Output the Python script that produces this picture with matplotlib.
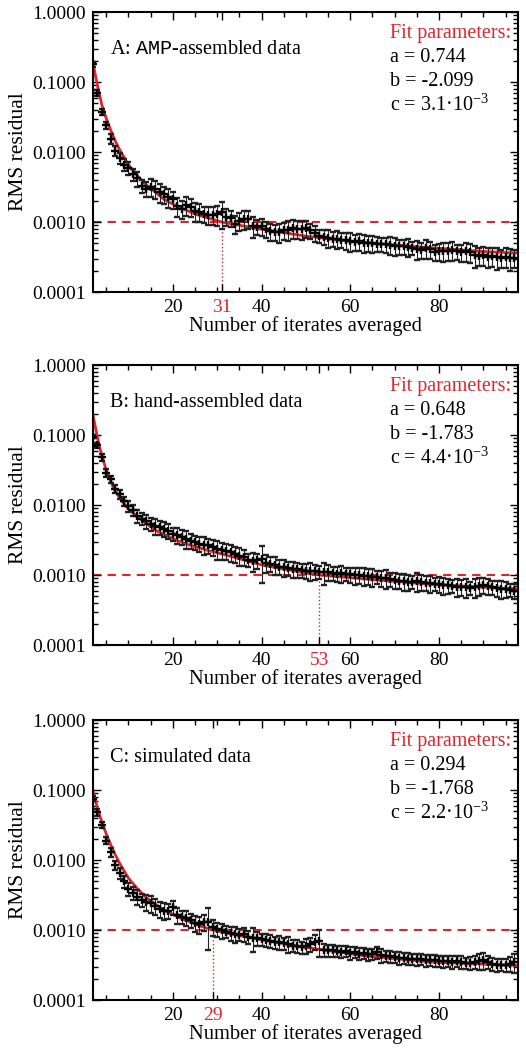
import numpy as np
import matplotlib
matplotlib.use("Agg")
import matplotlib.pyplot as plt
from matplotlib.ticker import FixedLocator, MultipleLocator, LogLocator, FuncFormatter, NullFormatter

plt.rcParams['font.family'] = ['Liberation Serif', 'DejaVu Serif']
plt.rcParams['mathtext.fontset'] = 'custom'
plt.rcParams['mathtext.rm'] = 'Liberation Serif'
plt.rcParams['mathtext.tt'] = 'Liberation Mono'

RED = '#e3232c'

# number of iterates averaged (x of the data points)
iters = np.arange(2, 98)

# A: AMP-assembled data, RMS residual in units of 1e-3
rms_a = [180, 70, 37, 24, 15.5, 10.5, 8.2, 6.6, 6.0, 4.8,
         4.2, 3.3, 3.0, 3.2, 3.0, 2.7, 2.5, 2.3, 2.1, 1.7,
         1.55, 1.75, 1.65, 1.45, 1.4, 1.3, 1.28, 1.28, 1.3, 1.38,
         1.2, 1.15, 0.95, 1.05, 1.1, 1.12, 0.88, 0.86, 0.87, 0.8,
         0.74, 0.72, 0.72, 0.76, 0.78, 0.82, 0.8, 0.79, 0.82, 0.76,
         0.7, 0.64, 0.62, 0.6, 0.58, 0.58, 0.56, 0.55, 0.53, 0.52,
         0.53, 0.51, 0.5, 0.5, 0.49, 0.48, 0.48, 0.47, 0.46, 0.45,
         0.45, 0.44, 0.43, 0.41, 0.4, 0.42, 0.41, 0.37, 0.38, 0.39,
         0.39, 0.4, 0.38, 0.37, 0.38, 0.37, 0.34, 0.33, 0.34, 0.32,
         0.33, 0.32, 0.31, 0.32, 0.31, 0.31]
# relative error bar half-size
err_a = [0.08, 0.1, 0.1, 0.12, 0.15, 0.15, 0.18, 0.2, 0.22, 0.2,
         0.25, 0.22, 0.25, 0.28, 0.3, 0.3, 0.28, 0.3, 0.28, 0.3,
         0.28, 0.3, 0.28, 0.3, 0.28, 0.25, 0.3, 0.28, 0.32, 0.42,
         0.28, 0.25, 0.3, 0.28, 0.3, 0.3, 0.32, 0.25, 0.28, 0.25,
         0.28, 0.25, 0.3, 0.28, 0.32, 0.3, 0.28, 0.3, 0.28, 0.25,
         0.25, 0.22, 0.25, 0.28, 0.25, 0.3, 0.25, 0.28, 0.3, 0.25,
         0.28, 0.3, 0.25, 0.28, 0.25, 0.22, 0.25, 0.28, 0.3, 0.25,
         0.25, 0.28, 0.22, 0.3, 0.25, 0.3, 0.28, 0.25, 0.28, 0.3,
         0.28, 0.3, 0.25, 0.28, 0.3, 0.3, 0.35, 0.28, 0.3, 0.32,
         0.3, 0.35, 0.3, 0.32, 0.35, 0.3]
fit_xa = [2.0, 3, 4, 5, 6, 7, 8, 10, 12, 14, 16, 18, 20, 25, 31, 35, 40, 50, 60, 70, 80, 90, 97.8]
fit_ya = [0.185, 0.089, 0.047, 0.030, 0.0205, 0.0145, 0.0108, 0.0066, 0.0046, 0.0034, 0.0027,
          0.0021, 0.0018, 0.0013, 0.00100, 0.00090, 0.00079, 0.00063, 0.00053, 0.00047,
          0.00042, 0.00038, 0.00036]

# B: hand-assembled data
rms_b = [95, 72, 48, 29, 23.5, 17, 14.2, 11.5, 9.8, 8.4,
         7.0, 6.4, 5.9, 5.4, 5.0, 4.8, 4.6, 4.3, 3.9, 3.7,
         3.55, 3.3, 3.1, 2.95, 2.8, 2.7, 2.65, 2.5, 2.35, 2.25,
         2.2, 2.1, 2.0, 1.9, 1.8, 1.65, 1.6, 1.62, 1.7, 1.5,
         1.45, 1.4, 1.32, 1.3, 1.25, 1.22, 1.2, 1.18, 1.16, 1.15,
         1.13, 1.12, 1.1, 1.1, 1.07, 1.05, 1.06, 1.04, 1.02, 1.0,
         1.0, 0.98, 0.97, 0.95, 0.94, 0.91, 0.9, 0.87, 0.85, 0.83,
         0.81, 0.8, 0.8, 0.82, 0.8, 0.78, 0.76, 0.75, 0.74, 0.72,
         0.71, 0.7, 0.68, 0.68, 0.67, 0.66, 0.68, 0.7, 0.72, 0.7,
         0.67, 0.65, 0.64, 0.63, 0.62, 0.6]
err_b = [0.06, 0.08, 0.1, 0.12, 0.12, 0.12, 0.15, 0.15, 0.18, 0.18,
         0.2, 0.2, 0.22, 0.22, 0.25, 0.22, 0.25, 0.25, 0.22, 0.25,
         0.25, 0.28, 0.25, 0.22, 0.25, 0.28, 0.25, 0.25, 0.3, 0.28,
         0.25, 0.28, 0.25, 0.28, 0.25, 0.22, 0.3, 0.25, 0.55, 0.28,
         0.25, 0.28, 0.25, 0.28, 0.22, 0.25, 0.25, 0.22, 0.25, 0.28,
         0.25, 0.22, 0.35, 0.25, 0.22, 0.25, 0.28, 0.22, 0.25, 0.28,
         0.25, 0.3, 0.25, 0.28, 0.22, 0.25, 0.3, 0.22, 0.25, 0.25,
         0.28, 0.25, 0.22, 0.3, 0.25, 0.25, 0.28, 0.22, 0.25, 0.28,
         0.25, 0.22, 0.28, 0.25, 0.3, 0.22, 0.3, 0.28, 0.25, 0.25,
         0.22, 0.25, 0.28, 0.25, 0.22, 0.25]
fit_xb = [2.0, 3.4, 4.9, 6.7, 8.6, 10, 12.4, 16, 20, 23.6, 27.3, 33, 40.5, 53, 63, 78, 97.8]
fit_yb = [0.19, 0.070, 0.0327, 0.017, 0.0111, 0.0088, 0.0065, 0.0044, 0.0033, 0.0027, 0.0023,
          0.00185, 0.00137, 0.00100, 0.00088, 0.00074, 0.00063]

# C: simulated data
rms_c = [75, 48, 32, 19, 13, 8.5, 6.5, 5.0, 3.9, 3.4,
         3.0, 2.7, 2.5, 2.4, 2.2, 2.0, 1.9, 1.9, 2.1, 1.65,
         1.55, 1.5, 1.38, 1.25, 1.2, 1.3, 1.3, 1.1, 1.02, 0.99,
         0.95, 0.9, 0.88, 0.86, 0.87, 0.8, 0.78, 0.76, 0.74, 0.72,
         0.7, 0.67, 0.67, 0.65, 0.63, 0.6, 0.6, 0.57, 0.6, 0.63,
         0.68, 0.7, 0.52, 0.51, 0.51, 0.5, 0.49, 0.5, 0.47, 0.48,
         0.46, 0.47, 0.45, 0.46, 0.48, 0.44, 0.43, 0.42, 0.41, 0.40,
         0.40, 0.39, 0.38, 0.38, 0.38, 0.37, 0.37, 0.37, 0.36, 0.36,
         0.36, 0.35, 0.36, 0.35, 0.34, 0.34, 0.35, 0.36, 0.37, 0.35,
         0.33, 0.32, 0.32, 0.32, 0.33, 0.35]
err_c = [0.08, 0.1, 0.1, 0.12, 0.15, 0.15, 0.18, 0.2, 0.22, 0.22,
         0.25, 0.22, 0.25, 0.28, 0.25, 0.25, 0.28, 0.25, 0.22, 0.25,
         0.22, 0.25, 0.22, 0.25, 0.28, 0.25, 0.6, 0.25, 0.22, 0.25,
         0.2, 0.22, 0.25, 0.2, 0.22, 0.2, 0.38, 0.22, 0.2, 0.2,
         0.22, 0.2, 0.22, 0.2, 0.25, 0.2, 0.22, 0.2, 0.25, 0.22,
         0.25, 0.42, 0.2, 0.18, 0.2, 0.18, 0.2, 0.18, 0.2, 0.18,
         0.2, 0.18, 0.2, 0.18, 0.2, 0.22, 0.18, 0.2, 0.18, 0.2,
         0.18, 0.2, 0.18, 0.2, 0.18, 0.2, 0.18, 0.2, 0.18, 0.2,
         0.18, 0.2, 0.18, 0.2, 0.18, 0.2, 0.22, 0.25, 0.28, 0.22,
         0.2, 0.22, 0.2, 0.22, 0.25, 0.3]
fit_xc = [2.0, 3, 4, 5, 6, 7, 8, 10, 12, 14, 17.6, 22, 26.6, 29, 33, 40, 48, 63, 78, 97.8]
fit_yc = [0.097, 0.055, 0.035, 0.0235, 0.0165, 0.0120, 0.0090, 0.0055, 0.0039, 0.0029, 0.0020,
          0.00145, 0.00112, 0.00100, 0.00088, 0.00073, 0.00059, 0.00043, 0.00035, 0.00031]

labels = ["A: $\\mathtt{AMP}$-assembled data", "B: hand-assembled data", "C: simulated data"]
crossings = [31, 53, 29]
params = [("0.744", "-2.099", "3.1"), ("0.648", "-1.783", "4.4"), ("0.294", "-1.768", "2.2")]

panels = [(rms_a, err_a, fit_xa, fit_ya), (rms_b, err_b, fit_xb, fit_yb), (rms_c, err_c, fit_xc, fit_yc)]
bottoms = [0.7216, 0.3851, 0.0467]

fig = plt.figure(figsize=(5.26, 10.49), dpi=100)

for i in range(3):
    rms, err, fx, fy = panels[i]
    ax = fig.add_axes([0.1768, bottoms[i], 0.808, 0.2669])
    y = np.array(rms) * 1e-3
    ax.errorbar(iters, y, yerr=y * np.array(err), fmt='+', color='black', ecolor='#222222',
                ms=6, mew=1.7, elinewidth=0.8, capsize=2.5, capthick=0.8, zorder=3)
    ax.plot(fx, fy, color=RED, lw=2, zorder=2)
    ax.axhline(1e-3, color=RED, ls=(0, (4, 3)), lw=1.5, zorder=1)
    ax.plot([crossings[i], crossings[i]], [1e-4, 1e-3], color=RED, ls=':', lw=1, zorder=1)

    ax.set_yscale('log')
    ax.set_ylim(1e-4, 1)
    ax.set_xlim(2.0, 97.8)
    ax.yaxis.set_major_locator(FixedLocator([1e-4, 1e-3, 1e-2, 1e-1, 1]))
    ax.yaxis.set_major_formatter(FuncFormatter(lambda v, p: "%.4f" % v))
    ax.yaxis.set_minor_locator(LogLocator(base=10, subs=np.arange(2, 10), numticks=20))
    ax.yaxis.set_minor_formatter(NullFormatter())
    ax.xaxis.set_major_locator(FixedLocator(sorted([20, 40, 60, 80, crossings[i]])))
    ax.xaxis.set_minor_locator(MultipleLocator(5))
    ax.tick_params(which='both', direction='in', top=True, right=True, labelsize=14, width=1)
    ax.tick_params(which='major', length=6, pad=5)
    ax.tick_params(which='minor', length=3.5)
    for lab in ax.get_xticklabels():
        if lab.get_text() == str(crossings[i]):
            lab.set_color(RED)
    for s in ax.spines.values():
        s.set_linewidth(1.5)

    ax.set_xlabel("Number of iterates averaged", fontsize=14.8, labelpad=0)
    ax.set_ylabel("RMS residual", fontsize=15.5, labelpad=3)

    ax.text(0.04, 0.866, labels[i], transform=ax.transAxes, fontsize=14.5, va='center')
    a, b, c = params[i]
    ax.text(0.698, 0.925, "Fit parameters:", transform=ax.transAxes, fontsize=14.5, color=RED, va='center')
    ax.text(0.698, 0.838, "a = " + a, transform=ax.transAxes, fontsize=14.5, va='center')
    ax.text(0.698, 0.753, "b = " + b, transform=ax.transAxes, fontsize=14.5, va='center')
    ax.text(0.698, 0.668, "c = " + c + "·10$^{-3}$", transform=ax.transAxes, fontsize=14.5, va='center')

fig.savefig("out.png", dpi=100)
